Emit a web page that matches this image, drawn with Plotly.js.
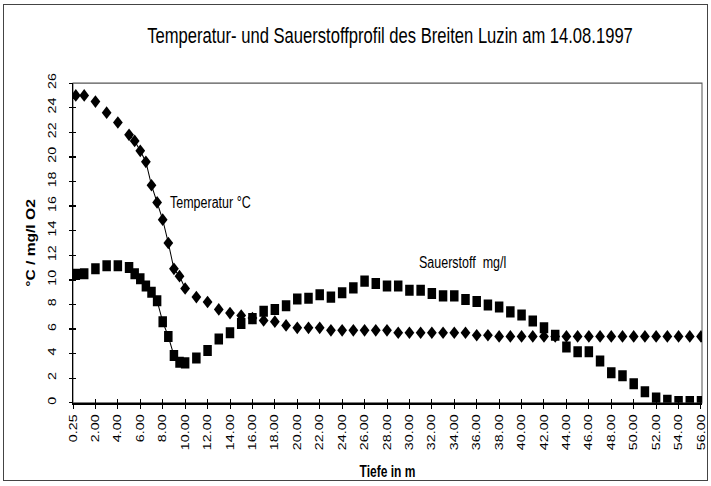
<!DOCTYPE html>
<html>
<head>
<meta charset="utf-8">
<script src="https://cdn.plot.ly/plotly-3.0.1.min.js"></script>
<style>
  html, body { margin: 0; padding: 0; background: #fff; overflow: hidden; }
  #wrap { position: absolute; left: 0; top: 0; width: 711px; height: 374px;
          transform: scaleY(1.2995); transform-origin: 0 0; }
  #frame { position: absolute; left: 3px; top: 4px; width: 703px; height: 475px;
           border: 1px solid #444; pointer-events: none; }
</style>
</head>
<body>
<div id="wrap"><div id="chart"></div></div>
<div id="frame"></div>
<script>
// Depth in m (measurement depths)
const depth = [0.25, 1, 2, 3, 4, 5, 5.5, 6, 6.5, 7, 7.5, 8, 8.5, 9, 9.5, 10,
  11, 12, 13, 14, 15, 16, 17, 18, 19, 20, 21, 22, 23, 24, 25, 26, 27, 28, 29, 30,
  31, 32, 33, 34, 35, 36, 37, 38, 39, 40, 41, 42, 43, 44, 45, 46, 47, 48, 49, 50,
  51, 52, 53, 54, 55, 56];

// Temperatur °C
const temperature = [25.0, 25.0, 24.5, 23.6, 22.8, 21.8, 21.3, 20.5, 19.6, 17.7, 16.3, 14.9, 13.0, 10.9, 10.3, 9.3,
  8.6, 8.2, 7.6, 7.3, 7.1, 6.9, 6.7, 6.6, 6.3, 6.1, 6.1, 6.1, 5.9, 5.9, 5.9, 5.9, 5.9, 5.9, 5.7, 5.7,
  5.7, 5.7, 5.7, 5.7, 5.7, 5.5, 5.5, 5.4, 5.4, 5.4, 5.4, 5.4, 5.4, 5.4, 5.4, 5.4, 5.4, 5.4, 5.4, 5.4,
  5.4, 5.4, 5.4, 5.4, 5.4, 5.4];

// Sauerstoff mg/l
const oxygen = [10.45, 10.5, 10.9, 11.15, 11.15, 11.0, 10.5, 10.1, 9.5, 9.0, 8.3, 6.6, 5.4, 3.85, 3.3, 3.25,
  3.65, 4.25, 5.2, 5.7, 6.45, 6.85, 7.45, 7.6, 7.9, 8.45, 8.5, 8.8, 8.6, 8.95, 9.35, 9.9, 9.7, 9.5, 9.5, 9.15,
  9.15, 8.9, 8.7, 8.7, 8.4, 8.25, 7.95, 7.8, 7.4, 7.15, 6.65, 6.1, 5.5, 4.55, 4.15, 4.15, 3.4, 2.45, 2.2, 1.55,
  0.9, 0.4, 0.2, 0.1, 0.1, 0.1];

// x tick labels
const xTickLabels = ["0.25", "2.00", "4.00", "6.00", "8.00", "10.00", "12.00", "14.00", "16.00", "18.00",
  "20.00", "22.00", "24.00", "26.00", "28.00", "30.00", "32.00", "34.00", "36.00", "38.00", "40.00",
  "42.00", "44.00", "46.00", "48.00", "50.00", "52.00", "54.00", "56.00"];

// connected (line) section: the fine-resolution profile in the metalimnion
const lineFrom = 5, lineTo = 10;

const xTickVals = xTickLabels.map((t, i) => i * 2);
const inLine = depth.map(d => d >= lineFrom && d <= lineTo);
const lineDepth = depth.filter((d, i) => inLine[i]);
const lineTemp = temperature.filter((v, i) => inLine[i]);
const lineOxy = oxygen.filter((v, i) => inLine[i]);

const FONT = "Liberation Sans, Arial, sans-serif";

const traces = [
  { x: lineDepth, y: lineTemp, mode: "lines", line: { color: "#000", width: 1 }, hoverinfo: "skip" },
  { x: lineDepth, y: lineOxy, mode: "lines", line: { color: "#000", width: 1 }, hoverinfo: "skip" },
  { x: depth, y: temperature, mode: "markers", name: "Temperatur °C",
    marker: { symbol: "diamond", size: 7.5, color: "#000" } },
  { x: depth, y: oxygen, mode: "markers", name: "Sauerstoff mg/l",
    marker: { symbol: "square", size: 8.5, color: "#000" } },
  { x: [depth[0]], y: [temperature[0]], xaxis: "x2", yaxis: "y2", mode: "markers",
    marker: { opacity: 0, size: 1 }, hoverinfo: "skip" }
];

const layout = {
  width: 711, height: 374,
  margin: { l: 73, r: 9, t: 64, b: 64 },
  paper_bgcolor: "#fff", plot_bgcolor: "#fff",
  showlegend: false,
  font: { family: FONT, color: "#000", size: 11 },
  title: {
    text: "Temperatur- und Sauerstoffprofil des Breiten Luzin am 14.08.1997",
    font: { family: FONT, size: 16.6, color: "#000" },
    x: 390 / 711, xref: "container", xanchor: "center",
    y: 1 - 26.9 / 374, yref: "container", yanchor: "middle"
  },
  xaxis: {
    range: [0, 56.09], tickvals: xTickVals, ticktext: xTickLabels, tickangle: -90,
    ticks: "outside", ticklen: 3, tickwidth: 1, tickcolor: "#000",
    showline: true, linecolor: "#000", linewidth: 1.5,
    showgrid: false, zeroline: false,
    tickfont: { family: FONT, size: 11, color: "#000" },
    title: { text: "<b>Tiefe in m</b>", font: { family: FONT, size: 12, color: "#000" }, standoff: 13 }
  },
  yaxis: {
    range: [0, 26], tick0: 0, dtick: 2, tickangle: -90,
    ticks: "outside", ticklen: 3, tickwidth: 1, tickcolor: "#000",
    ticklabelstandoff: 8,
    showline: true, linecolor: "#000", linewidth: 1.5,
    showgrid: false, zeroline: false,
    tickfont: { family: FONT, size: 11, color: "#000" },
    title: { text: "<b>°C / mg/l O2</b>", font: { family: FONT, size: 12, color: "#000" }, standoff: 8 }
  },
  xaxis2: {
    overlaying: "x", matches: "x", anchor: "y", side: "bottom",
    tickvals: xTickVals, ticks: "inside", ticklen: 3, tickwidth: 1, tickcolor: "#000",
    showticklabels: false, showline: false, showgrid: false, zeroline: false
  },
  yaxis2: {
    overlaying: "y", matches: "y", anchor: "x", side: "left",
    tick0: 0, dtick: 2, ticks: "inside", ticklen: 3, tickwidth: 1, tickcolor: "#000",
    showticklabels: false, showline: false, showgrid: false, zeroline: false
  },
  shapes: [
    { type: "rect", xref: "paper", yref: "paper", x0: 0, x1: 1, y0: 0, y1: 1,
      line: { color: "#555", width: 1 }, layer: "below" }
  ],
  annotations: [
    { text: "Temperatur °C", x: 8.5, y: 16.25, xref: "x", yref: "y",
      xanchor: "left", yanchor: "middle", showarrow: false,
      font: { family: FONT, size: 12.5, color: "#000" } },
    { text: "Sauerstoff\u00a0 mg/l", x: 30.66, y: 11.38, xref: "x", yref: "y",
      xanchor: "left", yanchor: "middle", showarrow: false,
      font: { family: FONT, size: 12.5, color: "#000" } }
  ]
};

Plotly.newPlot("chart", traces, layout, { staticPlot: true, displayModeBar: false });
</script>
</body>
</html>
